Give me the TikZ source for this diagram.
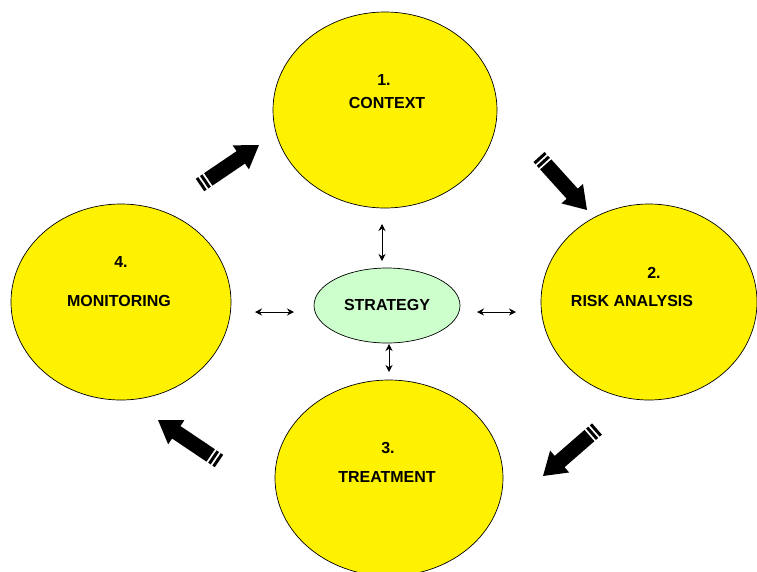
\documentclass[tikz,border=0pt]{standalone}
\usepackage{fontspec}
\setmainfont{Liberation Sans}
\usetikzlibrary{shapes.geometric,arrows.meta}
\tikzset{
  phase/.style={ellipse, draw=black, line width=0.7pt, fill=yellow, inner sep=0pt},
  lbl/.style={font=\fontsize{16}{18}\selectfont\bfseries, inner sep=0pt},
  link/.style={line width=0.8pt, {Stealth[length=7pt,width=7pt]}-{Stealth[length=7pt,width=7pt]}},
}
\newcommand\stripearrow[2]{%
  \pgfpointdiff{\pgfpointanchor{#1}{center}}{\pgfpointanchor{#2}{center}}%
  \pgfgetlastxy\ax\ay
  \pgfmathsetmacro\ang{atan2(\ay,\ax)}%
  \pgfmathsetmacro\len{veclen(\ax,\ay)}%
  \pgfmathsetmacro\hb{\len-22}%
  \begin{scope}[shift={(#1)}, rotate=\ang]
    \fill[black] (0pt,-7.5pt) rectangle (3pt,7.5pt);
    \fill[black] (5pt,-7.5pt) rectangle (8pt,7.5pt);
    \fill[black] (10pt,-7.5pt) -- (\hb pt,-7.5pt) -- (\hb pt,-14.5pt) -- (\len pt,0pt)
      -- (\hb pt,14.5pt) -- (\hb pt,7.5pt) -- (10pt,7.5pt) -- cycle;
  \end{scope}%
}
\begin{document}
\begin{tikzpicture}[x=1pt,y=-1pt]
  \useasboundingbox (0,0) rectangle (757,571);
  \clip (0,0) rectangle (757,571);
  % phases
  \node[phase, minimum width=224pt, minimum height=196pt] (ctx) at (385,110) {};
  \node[phase, minimum width=216pt, minimum height=196pt] (risk) at (649,302) {};
  \node[phase, minimum width=228pt, minimum height=196pt] (treat) at (389,478) {};
  \node[phase, minimum width=220pt, minimum height=196pt] (mon) at (121,302) {};
  \node[ellipse, draw=black, line width=0.7pt, fill={rgb,255:red,204;green,255;blue,204},
        inner sep=0pt, minimum width=146pt, minimum height=75pt] (strat) at (387,305.5) {};
  % labels
  \node[lbl] (n1) at (384,80) {1.};
  \node[lbl] (t1) at (387,103) {CONTEXT};
  \node[lbl] (n2) at (654,273) {2.};
  \node[lbl] (t2) at (632,301) {RISK ANALYSIS};
  \node[lbl] (n3) at (388,448) {3.};
  \node[lbl] (t3) at (387,477) {TREATMENT};
  \node[lbl] (n4) at (121,262) {4.};
  \node[lbl] (t4) at (119,301) {MONITORING};
  \node[lbl] (ts) at (387,305) {STRATEGY};
  % small links
  \coordinate (a1) at (382,224); \coordinate (a2) at (382,261);
  \coordinate (b1) at (389,344); \coordinate (b2) at (389,372);
  \coordinate (c1) at (255,312); \coordinate (c2) at (294,312);
  \coordinate (d1) at (477,312); \coordinate (d2) at (516,312);
  \draw[link] (a1) -- (a2);
  \draw[link] (b1) -- (b2);
  \draw[link] (c1) -- (c2);
  \draw[link] (d1) -- (d2);
  % big cycle arrows
  \coordinate (p1) at (200,185); \coordinate (q1) at (259,145);
  \coordinate (p2) at (539,157); \coordinate (q2) at (587,210);
  \coordinate (p3) at (597,429); \coordinate (q3) at (543,476);
  \coordinate (p4) at (219,461); \coordinate (q4) at (158,420);
  \stripearrow{p1}{q1}
  \stripearrow{p2}{q2}
  \stripearrow{p3}{q3}
  \stripearrow{p4}{q4}
\end{tikzpicture}
\end{document}
